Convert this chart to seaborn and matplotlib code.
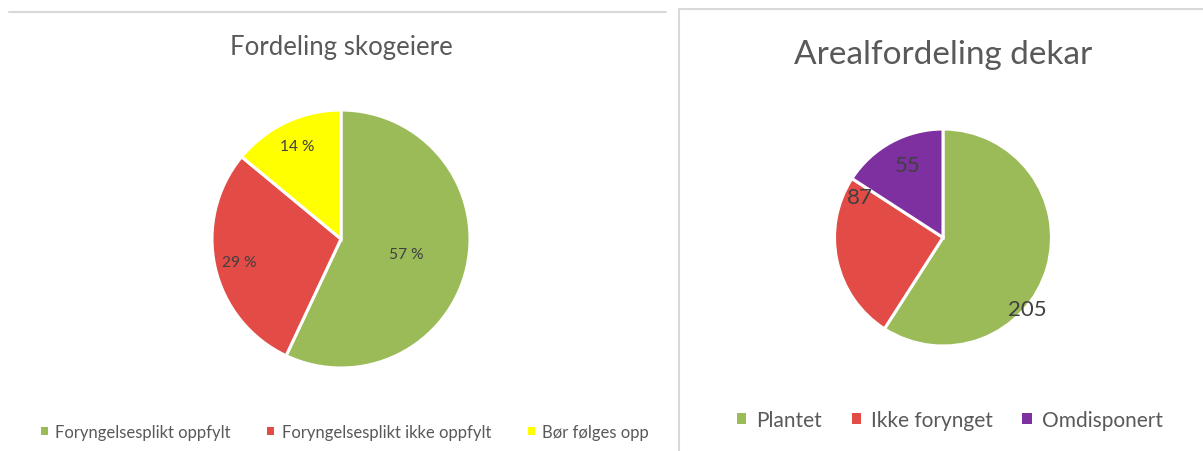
import matplotlib.pyplot as plt
import numpy as np
import seaborn as sns
from matplotlib.lines import Line2D
from matplotlib.patches import Patch

# --- Data ---
OWNER_TITLE = "Fordeling skogeiere"
OWNER_LABELS = ["Foryngelsesplikt oppfylt", "Foryngelsesplikt ikke oppfylt", "Bør følges opp"]
OWNER_SHARE = [57, 29, 14]

AREA_TITLE = "Arealfordeling dekar"
AREA_LABELS = ["Plantet", "Ikke forynget", "Omdisponert"]
AREA_DEKAR = [205, 87, 55]

# --- Style ---
GREEN = "#9BBB59"
RED = "#E24B46"
YELLOW = "#FFFF00"
PURPLE = "#7F30A0"
TEXT = "#595959"
LABEL = "#404040"
BORDER = "#D9D9D9"

OWNER_COLORS = [GREEN, RED, YELLOW]
AREA_COLORS = [GREEN, RED, PURPLE]

# radial distance of the percentage labels (Excel "best fit")
OWNER_LABEL_DIST = [0.52, 0.81, 0.80]
# label anchors in pie units for the area chart (manually placed in the original)
AREA_LABEL_POS = [(0.78, -0.66), (-0.77, 0.37), (-0.33, 0.67)]

W, H = 1203, 452

sns.set_theme(style="white")
plt.rcParams["font.family"] = ["Lato", "DejaVu Sans"]

fig = plt.figure(figsize=(W / 100, H / 100), dpi=100)


def pie_axes(cx, cy, r, pad=1.1):
    # cx, cy, r in pixels (y from top)
    size = 2 * r * pad
    ax = fig.add_axes([(cx - size / 2) / W, (H - cy - size / 2) / H, size / W, size / H])
    return ax


def draw_pie(ax, values, colors):
    wedges, _ = ax.pie(
        values,
        colors=colors,
        startangle=90,
        counterclock=False,
        wedgeprops=dict(edgecolor="white", linewidth=2.2),
    )
    ax.set_xlim(-1.1, 1.1)
    ax.set_ylim(-1.1, 1.1)
    ax.set_aspect("equal")
    ax.axis("off")
    return wedges


# ==============================================================================
# Left: owners
# ==============================================================================
ax1 = pie_axes(341, 240, 129)
wedges1 = draw_pie(ax1, OWNER_SHARE, OWNER_COLORS)
for w, val, d in zip(wedges1, OWNER_SHARE, OWNER_LABEL_DIST):
    ang = np.deg2rad((w.theta1 + w.theta2) / 2)
    ax1.text(d * np.cos(ang), d * np.sin(ang), f"{val} %", ha="center", va="center",
             fontsize=11.2, color=LABEL)

fig.text(341 / W, 1 - 48 / H, OWNER_TITLE, ha="center", va="center", fontsize=18.5, color=TEXT)

handles1 = [Patch(facecolor=c, edgecolor="none") for c in OWNER_COLORS]
fig.legend(handles1, OWNER_LABELS, loc="center", bbox_to_anchor=(345 / W, 1 - 433 / H), ncol=3,
           frameon=False, fontsize=12, labelcolor=TEXT, handlelength=0.42, handleheight=0.42,
           handletextpad=0.45, columnspacing=2.2)

# ==============================================================================
# Right: area in dekar
# ==============================================================================
ax2 = pie_axes(943, 238.5, 108.5)
wedges2 = draw_pie(ax2, AREA_DEKAR, AREA_COLORS)
for val, (x, y) in zip(AREA_DEKAR, AREA_LABEL_POS):
    ax2.text(x, y, f"{val}", ha="center", va="center", fontsize=16, color=LABEL)

fig.text(943 / W, 1 - 55 / H, AREA_TITLE, ha="center", va="center", fontsize=24, color=TEXT)

handles2 = [Patch(facecolor=c, edgecolor="none") for c in AREA_COLORS]
fig.legend(handles2, AREA_LABELS, loc="center", bbox_to_anchor=(950 / W, 1 - 421 / H), ncol=3,
           frameon=False, fontsize=15, labelcolor=TEXT, handlelength=0.45, handleheight=0.45,
           handletextpad=0.5, columnspacing=1.4)

# --- panel borders ---
fig.add_artist(Line2D([9 / W, 666 / W], [1 - 13 / H, 1 - 13 / H], color=BORDER, lw=1.5))
fig.add_artist(Line2D([679 / W, 679 / W, 1.0], [0.0, 1 - 10 / H, 1 - 10 / H], color=BORDER, lw=1.5))

fig.savefig("out.png", dpi=100, facecolor="white")
